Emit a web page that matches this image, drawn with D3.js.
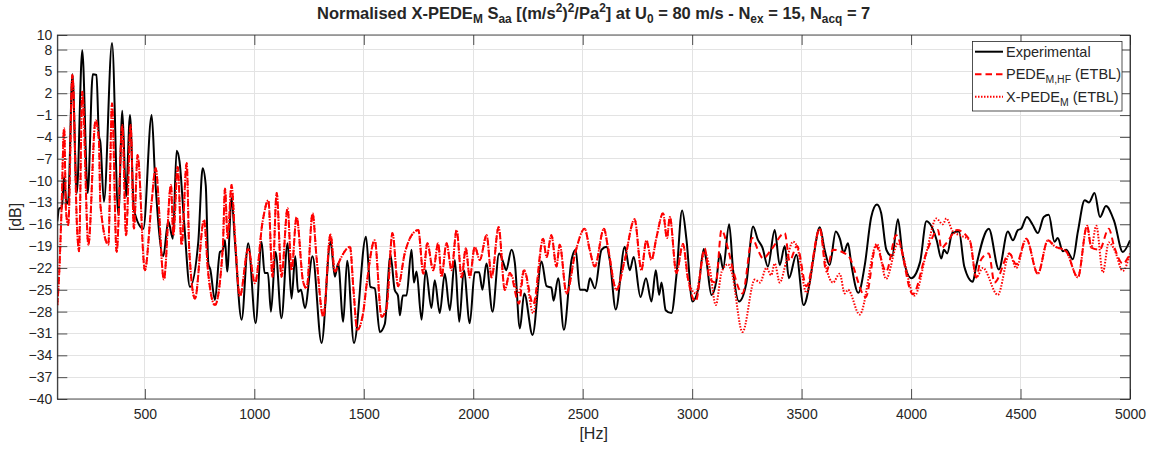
<!DOCTYPE html>
<html><head><meta charset="utf-8">
<script src="https://cdn.jsdelivr.net/npm/d3@7"></script>
<style>
body{margin:0;background:#fff}
text{font-family:"Liberation Sans",Arial,Helvetica,sans-serif;fill:#262626}
</style>
</head><body>
<svg id="c" width="1160" height="452"></svg>
<script>
// ---- data (frequency [Hz], level [dB]) ----
const xTicks = [500,1000,1500,2000,2500,3000,3500,4000,4500,5000];
const yTicks = [-40,-37,-34,-31,-28,-25,-22,-19,-16,-13,-10,-7,-4,-1,2,5,8,10];

const experimental = [[100,-15.6],[109,-13.8],[121,-13.7],[131,-9.5],[142,-13.2],[150,-12.8],[169,4.6],[189,-11.7],[214,7.9],[239,-11.7],[262,4.6],[279,4.5],[290,-3.8],[297,-4.8],[313,-12.9],[350,8.9],[379,-14.7],[397,-0.4],[414,-12.2],[432,-1],[450,-14],[493,-16.6],[531,-1],[546,-9.2],[584,-20.4],[607,-15.6],[628,-18],[645,-5.9],[658,-7.3],[680,-16],[706,-24.6],[744,-18.4],[764,-8.3],[778,-10.6],[790,-21.4],[799,-22.2],[820,-26.4],[843,-19.8],[855,-19.6],[866,-18.2],[876,-22.5],[896,-12.4],[911,-18.2],[942,-29.1],[972,-18.6],[1006,-29.6],[1033,-18.4],[1047,-22.7],[1062,-22.7],[1076,-28],[1097,-19.8],[1124,-28.9],[1152,-18.6],[1170,-26.2],[1187,-20.4],[1200,-25.3],[1213,-25],[1231,-27.5],[1266,-20.4],[1307,-32.3],[1348,-18.4],[1368,-23.2],[1383,-21.4],[1406,-29.4],[1424,-21],[1455,-32.3],[1510,-17.7],[1530,-24.6],[1550,-24.8],[1573,-30.8],[1596,-29.7],[1622,-20.2],[1641,-25],[1656,-25.8],[1665,-28.5],[1678,-25.8],[1695,-25.8],[1718,-19.5],[1729,-24],[1741,-22.5],[1764,-29.1],[1783,-22.3],[1809,-27.5],[1824,-23.7],[1847,-28.2],[1870,-22.8],[1893,-27.8],[1916,-20.9],[1936,-29.4],[1957,-22.3],[1984,-29.6],[2007,-22.6],[2027,-22.6],[2042,-25],[2060,-21.4],[2088,-28],[2118,-20],[2141,-21.6],[2150,-22.3],[2175,-19.5],[2190,-21.3],[2213,-30.3],[2233,-25.5],[2271,-31.2],[2312,-21.1],[2335,-24.5],[2357,-24.7],[2367,-26.5],[2388,-23.4],[2414,-30.5],[2449,-20.9],[2468,-19.5],[2487,-25],[2510,-25],[2520,-25.2],[2533,-23.4],[2556,-24.8],[2586,-19.5],[2609,-19.1],[2624,-21],[2651,-27.7],[2692,-19.1],[2715,-22.3],[2733,-20.5],[2764,-26],[2789,-23.4],[2814,-26.6],[2834,-22.3],[2849,-25.7],[2860,-24],[2879,-27.8],[2905,-28.2],[2928,-23.1],[2954,-14.1],[2974,-18.1],[3001,-26.6],[3027,-25],[3053,-19.4],[3065,-21],[3088,-25.7],[3111,-23.7],[3126,-20],[3141,-22.1],[3169,-16],[3187,-22.3],[3214,-26.6],[3248,-24],[3278,-16.3],[3300,-18.1],[3321,-19.2],[3346,-21.8],[3377,-16.8],[3400,-21.6],[3423,-19],[3442,-23.4],[3476,-20.2],[3509,-27.1],[3537,-24],[3555,-20.4],[3583,-16.4],[3605,-19.5],[3628,-21.6],[3656,-17],[3675,-18],[3692,-19.9],[3712,-18.6],[3727,-21.5],[3759,-25.4],[3789,-21.5],[3818,-15],[3844,-13.3],[3863,-14.4],[3887,-19.5],[3913,-20.4],[3940,-15.3],[3960,-19.9],[4001,-23.4],[4041,-21.2],[4070,-15.6],[4117,-18.2],[4138,-20.7],[4150,-19.5],[4165,-20],[4188,-17.2],[4219,-17],[4243,-21.8],[4282,-23.9],[4297,-21.8],[4355,-16.6],[4401,-22.2],[4442,-17],[4465,-18.2],[4488,-16.8],[4503,-16.6],[4529,-15],[4554,-16],[4579,-17.2],[4606,-15],[4629,-14.7],[4655,-18.4],[4670,-17.9],[4693,-19.7],[4708,-19.5],[4739,-20.8],[4762,-17],[4793,-12.7],[4813,-13],[4838,-11.7],[4863,-15],[4890,-13.5],[4928,-15.6],[4967,-19.8],[5000,-18.2]];

const pedeLowBand = [[100,-27.1],[109,-22.5],[119,-14.3],[131,-2.8],[140,-14.3],[150,-16.1],[169,4.5],[191,-17],[199,-19.7],[214,2.2],[242,-18.8],[275,-1.7],[290,-4.5],[297,-13.4],[333,-18.8],[350,0.6],[371,-19.8],[397,-2.4],[414,-17.5],[435,-2.4],[450,-16.6],[467,-6.5],[500,-22.3],[531,-12.9],[549,-8.3],[587,-23.6],[619,-10.6],[630,-17.5],[650,-8.1],[668,-18.8],[691,-7.6],[703,-19.7],[729,-26.2],[770,-15.4],[789,-22.6],[820,-27.1],[856,-19.2],[866,-11.1],[878,-17.9],[896,-10.6],[911,-17.4],[934,-25.9],[972,-19.4],[1003,-24.1],[1038,-15.6],[1064,-12.7],[1083,-23.2],[1102,-11.7],[1124,-23.2],[1152,-13.8],[1170,-22.3],[1193,-15],[1223,-23.9],[1239,-24.8],[1266,-14.5],[1284,-20.5],[1315,-28.7],[1348,-17.4],[1368,-22.5],[1391,-20.9],[1437,-19.1],[1453,-25],[1470,-30.5],[1497,-28.2],[1512,-24.5],[1550,-18.2],[1581,-28.7],[1604,-27.5],[1631,-17.2],[1657,-24.5],[1687,-20],[1726,-17.2],[1749,-16.8],[1772,-22.8],[1790,-18.6],[1817,-22.3],[1840,-18.6],[1855,-23.2],[1878,-18.6],[1901,-22.3],[1924,-16.8],[1947,-23.3],[1966,-19.3],[1984,-23.3],[2007,-19.1],[2030,-20.9],[2061,-17.5],[2084,-23.3]];

const pedeHFHigh = [[2116,-16.4],[2144,-25],[2167,-22.7],[2209,-26.9],[2232,-22.3],[2274,-27],[2319,-18],[2335,-20.5],[2357,-17.5],[2380,-21.8],[2395,-18.8],[2426,-25.5],[2467,-19.8],[2509,-16.6],[2532,-19.5],[2555,-21.8],[2597,-16.6],[2615,-19.1],[2654,-25],[2692,-20.9],[2737,-15.3],[2768,-22.3],[2791,-18.2],[2814,-20.9],[2837,-17.8],[2867,-14.5],[2885,-17.9],[2898,-15],[2928,-22.7],[2958,-18.7],[2981,-23.5],[3016,-26.6],[3057,-19.3],[3080,-23.5],[3108,-24],[3134,-16.8],[3164,-19.4],[3187,-22.3],[3230,-25.5],[3275,-17.9],[3300,-19.5],[3324,-20.7],[3361,-19.5],[3423,-17.2],[3445,-21],[3479,-19],[3522,-24.5],[3583,-16.6],[3613,-22.5],[3643,-19.5],[3712,-20.3],[3793,-26],[3840,-19],[3886,-22.5],[3932,-17.5],[4008,-25.6],[4069,-20],[4123,-16.8],[4138,-19.3],[4161,-18.6],[4210,-16.8],[4268,-18.2],[4298,-23.3],[4317,-21],[4355,-20],[4381,-24],[4450,-20],[4480,-21.5],[4526,-18],[4579,-22.8],[4625,-18.2],[4655,-19],[4708,-19.7],[4762,-23.3],[4804,-16.2],[4823,-19.2],[4861,-19.5],[4903,-16.6],[4929,-19.2],[4967,-21.4],[5000,-20]];

const xPedeHigh = [[2116,-16.4],[2144,-25],[2167,-22.7],[2209,-25.5],[2232,-22.3],[2274,-28.2],[2319,-18],[2335,-20.5],[2357,-17.5],[2380,-21.8],[2395,-18.8],[2426,-25.5],[2467,-19.8],[2509,-16.6],[2532,-19.5],[2555,-21.8],[2597,-16.6],[2615,-19.1],[2654,-25],[2692,-20.9],[2737,-15.3],[2768,-22.3],[2791,-18.2],[2814,-20.9],[2837,-17.8],[2867,-14.5],[2885,-17.9],[2898,-15],[2928,-22.7],[2958,-18.7],[2981,-23.5],[3016,-25.5],[3057,-19.8],[3080,-22],[3108,-27.1],[3135,-22.5],[3164,-21.5],[3180,-22.5],[3230,-30.8],[3286,-23.6],[3310,-24],[3339,-22],[3361,-23],[3377,-21.4],[3400,-24],[3430,-21.1],[3460,-18.4],[3479,-19],[3522,-25.4],[3583,-16.6],[3613,-22],[3643,-24],[3674,-22.8],[3697,-25.5],[3712,-25],[3765,-28.4],[3844,-18.7],[3886,-23.5],[3940,-18.6],[4016,-25.8],[4069,-20],[4115,-15.2],[4145,-16],[4161,-15.2],[4191,-17],[4222,-17.5],[4268,-18.2],[4298,-23.3],[4328,-22],[4396,-25.7],[4450,-20],[4480,-22],[4526,-18],[4579,-22.8],[4625,-18.2],[4655,-19],[4708,-19.7],[4762,-23.3],[4804,-16.2],[4823,-19.2],[4846,-16.2],[4876,-22.6],[4903,-18.5],[4929,-19.5],[4967,-22.4],[5000,-20]];

const pedeHF = pedeLowBand.concat(pedeHFHigh);
const xPede = pedeLowBand.concat(xPedeHigh);

// ---- layout ----
const L = 57.3, R = 1130, T = 35, B = 399;
const svg = d3.select("#c");
const x = d3.scaleLinear().domain([100,5000]).range([L,R]);
const y = d3.scaleLinear().domain([-40,10]).range([B,T]);

// grid
const grid = svg.append("g").attr("stroke","#e3e3e3").attr("stroke-width",1).attr("shape-rendering","crispEdges");
grid.selectAll(".gx").data(xTicks).join("line").attr("x1",d=>x(d)).attr("x2",d=>x(d)).attr("y1",T).attr("y2",B);
grid.selectAll(".gy").data(yTicks).join("line").attr("y1",d=>y(d)).attr("y2",d=>y(d)).attr("x1",L).attr("x2",R);

// lines
svg.append("clipPath").attr("id","clip").append("rect").attr("x",L).attr("y",T).attr("width",R-L).attr("height",B-T);
const line = d3.line().x(d=>x(d[0])).y(d=>y(d[1])).curve(d3.curveMonotoneX);
const lg = svg.append("g").attr("clip-path","url(#clip)").attr("fill","none").attr("stroke-linejoin","round");
lg.append("path").datum(experimental).attr("d",line).attr("stroke","#000").attr("stroke-width",2);
lg.append("path").datum(pedeHF).attr("d",line).attr("stroke","#ff0000").attr("stroke-width",2).attr("stroke-dasharray","6.5,4");
lg.append("path").datum(xPede).attr("d",line).attr("stroke","#ff0000").attr("stroke-width",2).attr("stroke-dasharray","1.5,1.5");

// axes
const axCol = "#262626";
const gx = svg.append("g").attr("transform",`translate(0,${B})`)
  .call(d3.axisBottom(x).tickValues(xTicks).tickFormat(d3.format("d")).tickSizeInner(-10).tickSizeOuter(0).tickPadding(10));
const gxt = svg.append("g").attr("transform",`translate(0,${T})`)
  .call(d3.axisTop(x).tickValues(xTicks).tickSizeInner(-10).tickSizeOuter(0).tickFormat(""));
const gy = svg.append("g").attr("transform",`translate(${L},0)`)
  .call(d3.axisLeft(y).tickValues(yTicks).tickFormat(d3.format("d")).tickSizeInner(-10).tickSizeOuter(0).tickPadding(5));
const gyr = svg.append("g").attr("transform",`translate(${R},0)`)
  .call(d3.axisRight(y).tickValues(yTicks).tickSizeInner(-10).tickSizeOuter(0).tickFormat(""));
[gx,gxt,gy,gyr].forEach(g=>{
  g.selectAll("path").attr("stroke",axCol).attr("stroke-width",0.8);
  g.selectAll("line").attr("stroke",axCol).attr("stroke-width",0.8);
  g.selectAll("text").attr("font-size",14).attr("fill",axCol).attr("font-family",'"Liberation Sans",Arial,sans-serif');
});
gx.select(".domain").remove(); gxt.select(".domain").remove();
svg.append("rect").attr("x",L).attr("y",T).attr("width",R-L).attr("height",B-T)
  .attr("fill","none").attr("stroke",axCol).attr("stroke-width",0.8);

// axis labels
svg.append("text").attr("x",(L+R)/2).attr("y",439).attr("text-anchor","middle").attr("font-size",16).text("[Hz]");
svg.append("text").attr("transform",`translate(21,${(T+B)/2}) rotate(-90)`).attr("text-anchor","middle").attr("font-size",16).text("[dB]");

// title with sub/superscripts
function rich(sel, parts, size){
  parts.forEach(p=>{
    const t = sel.append("tspan").text(p[0]);
    if(p[1]==="sub"){ t.attr("font-size",size*0.72).attr("dy",size*0.27); }
    else if(p[1]==="sup"){ t.attr("font-size",size*0.72).attr("dy",-size*0.4); }
    if(p[2]) t.attr("dy", p[2]*size);
  });
}
const title = svg.append("text").attr("x",(L+R)/2).attr("y",19).attr("text-anchor","middle")
  .attr("font-size",16.5).attr("font-weight","bold").attr("fill","#000");
rich(title,[
  ["Normalised X-PEDE"],["M","sub"],[" S",null,-0.27],["aa","sub"],[" [(m/s",null,-0.27],["2","sup"],[")",null,0.4],
  ["2","sup"],["/Pa",null,0.4],["2","sup"],["] at U",null,0.4],["0","sub"],[" = 80 m/s - N",null,-0.27],["ex","sub"],
  [" = 15, N",null,-0.27],["acq","sub"],[" = 7",null,-0.27]
],16.5);

// legend
const lgd = svg.append("g");
lgd.append("rect").attr("x",972.5).attr("y",41.5).attr("width",149.5).attr("height",69.5)
  .attr("fill","#fff").attr("stroke",axCol).attr("stroke-width",0.8);
const entries = [
  {y:51.7, dash:null, parts:[["Experimental"]], col:"#000"},
  {y:74.3, dash:"6.5,4", parts:[["PEDE"],["M,HF","sub"],[" (ETBL)",null,-0.27]], col:"#ff0000"},
  {y:96.7, dash:"1.5,1.5", parts:[["X-PEDE"],["M","sub"],[" (ETBL)",null,-0.27]], col:"#ff0000"}
];
entries.forEach(e=>{
  const l = lgd.append("line").attr("x1",975).attr("x2",1003).attr("y1",e.y).attr("y2",e.y)
    .attr("stroke",e.col).attr("stroke-width",2);
  if(e.dash) l.attr("stroke-dasharray",e.dash);
  const t = lgd.append("text").attr("x",1006).attr("y",e.y+5).attr("font-size",14.5).attr("fill","#000");
  rich(t,e.parts,14.5);
});
</script>
</body></html>
